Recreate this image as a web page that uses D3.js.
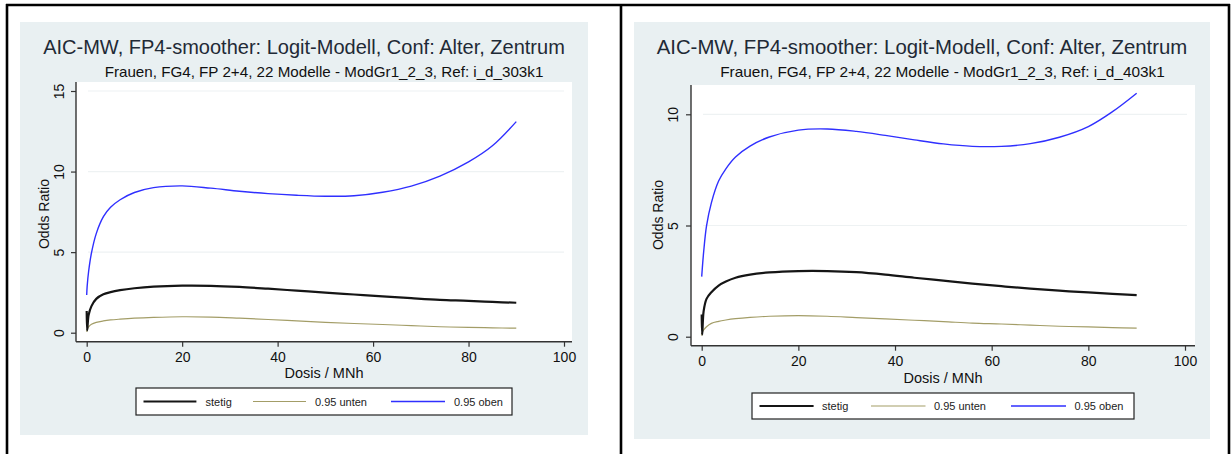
<!DOCTYPE html>
<html>
<head>
<meta charset="utf-8">
<script src="https://cdn.jsdelivr.net/npm/d3@7"></script>
<style>
  html, body { margin: 0; padding: 0; background: #ffffff; }
  svg { display: block; }
  text { font-family: "Liberation Sans", Arial, sans-serif; }
</style>
</head>
<body>
<svg id="chart" width="1232" height="454"></svg>
<script>
// Dose grid shared by all curves (MNh)
const dose = [0, 0.1, 0.4, 1, 2, 3.5, 5, 7, 10, 14, 20, 26, 32, 38, 44, 50, 56, 62, 68, 74, 80, 85, 90];

// Reference i_d_303k1
const stetig303 = [1.35, 0.15, 1.10, 1.65, 2.10, 2.38, 2.52, 2.64, 2.76, 2.86, 2.92, 2.91, 2.84, 2.73, 2.61, 2.49, 2.37, 2.25, 2.14, 2.04, 1.98, 1.91, 1.86];
const unten303  = [0.05, 0.20, 0.36, 0.52, 0.64, 0.73, 0.79, 0.84, 0.90, 0.95, 0.99, 0.97, 0.90, 0.82, 0.73, 0.64, 0.57, 0.51, 0.44, 0.37, 0.33, 0.30, 0.28];
const oben303   = [2.34, 2.90, 3.80, 4.95, 6.15, 7.20, 7.78, 8.25, 8.70, 9.00, 9.11, 8.97, 8.78, 8.63, 8.53, 8.47, 8.50, 8.72, 9.10, 9.72, 10.6, 11.6, 13.1];

// Reference i_d_403k1
const stetig403 = [1.00, 0.10, 1.15, 1.70, 2.00, 2.30, 2.48, 2.65, 2.79, 2.89, 2.95, 2.95, 2.90, 2.79, 2.65, 2.52, 2.39, 2.27, 2.16, 2.07, 1.99, 1.93, 1.87];
const unten403  = [0.05, 0.18, 0.30, 0.45, 0.60, 0.69, 0.75, 0.81, 0.87, 0.92, 0.95, 0.92, 0.86, 0.80, 0.74, 0.68, 0.61, 0.57, 0.52, 0.47, 0.44, 0.41, 0.39];
const oben403   = [2.70, 3.00, 3.80, 4.98, 6.02, 7.00, 7.55, 8.08, 8.57, 8.98, 9.29, 9.34, 9.23, 9.05, 8.85, 8.67, 8.56, 8.56, 8.68, 8.97, 9.45, 10.12, 10.95];

// Axis ticks
const xTicks = [0, 20, 40, 60, 80, 100];
const yTicks303 = [0, 5, 10, 15];
const yTicks403 = [0, 5, 10];

// Text
const titleText = "AIC-MW, FP4-smoother: Logit-Modell, Conf: Alter, Zentrum";
const subtitle303 = "Frauen, FG4, FP 2+4, 22 Modelle - ModGr1_2_3, Ref: i_d_303k1";
const subtitle403 = "Frauen, FG4, FP 2+4, 22 Modelle - ModGr1_2_3, Ref: i_d_403k1";
const xTitle = "Dosis / MNh";
const yTitle = "Odds Ratio";
const seriesNames = ["stetig", "0.95 unten", "0.95 oben"];

const seriesStyle = [
  { color: "#151515", width: 2.2 },
  { color: "#a39d67", width: 1.2 },
  { color: "#2f2fff", width: 1.4 }
];

const svg = d3.select("#chart");

// Table frame around the two cells
const frame = svg.append("g").attr("stroke", "#000").attr("stroke-width", 2.6);
frame.append("line").attr("x1", 6).attr("x2", 1230).attr("y1", 5).attr("y2", 5);
frame.append("line").attr("x1", 7).attr("x2", 7).attr("y1", 4).attr("y2", 454);
frame.append("line").attr("x1", 621).attr("x2", 621).attr("y1", 4).attr("y2", 454);
frame.append("line").attr("x1", 1229).attr("x2", 1229).attr("y1", 4).attr("y2", 454);

function fitText(sel, target, base) {
  sel.style("font-size", base + "px");
  const w = sel.node().getComputedTextLength();
  sel.style("font-size", (base * target / w).toFixed(2) + "px");
}

function drawPanel(p) {
  const g = svg.append("g");

  // graph region
  g.append("rect")
    .attr("x", p.bg[0]).attr("y", p.bg[1])
    .attr("width", p.bg[2] - p.bg[0]).attr("height", p.bg[3] - p.bg[1])
    .attr("fill", "#e9f0f2");

  const x = d3.scaleLinear().domain([0, 100]).range(p.xRange);
  const y = d3.scaleLinear().domain(p.yDomain).range(p.yRange);

  // plot region
  g.append("rect")
    .attr("x", p.axisX).attr("y", p.axisTop)
    .attr("width", p.axisRight - p.axisX).attr("height", p.axisY - p.axisTop)
    .attr("fill", "#ffffff");

  // faint grid lines
  g.append("g").selectAll("line").data(p.yTicks.filter(d => d > 0)).join("line")
    .attr("x1", p.axisX + 12).attr("x2", p.axisRight - 8)
    .attr("y1", d => y(d)).attr("y2", d => y(d))
    .attr("stroke", "#eef2f3").attr("stroke-width", 1.2);

  // curves
  const line = d3.line().x(d => x(d[0])).y(d => y(d[1])).curve(d3.curveCatmullRom.alpha(0.5));
  const order = [1, 0, 2];
  order.forEach(i => {
    const vals = p.series[i];
    g.append("path")
      .datum(dose.map((d, k) => [d, vals[k]]))
      .attr("d", line)
      .attr("fill", "none")
      .attr("stroke", seriesStyle[i].color)
      .attr("stroke-width", seriesStyle[i].width)
      .attr("stroke-linejoin", "round");
  });

  // y axis
  const yAxis = d3.axisLeft(y).tickValues(p.yTicks).tickSize(5).tickPadding(4).tickFormat(d3.format("d"));
  const ya = g.append("g").attr("transform", `translate(${p.axisX},0)`).call(yAxis);
  ya.select(".domain").remove();
  ya.selectAll(".tick line").attr("stroke", "#333").attr("stroke-width", 1.2);
  ya.selectAll(".tick text")
    .attr("font-size", 14).attr("fill", "#111")
    .attr("font-family", "Liberation Sans, Arial, sans-serif")
    .attr("text-anchor", "middle")
    .attr("x", 0).attr("dy", 0)
    .attr("transform", `translate(${p.yLabelX - p.axisX},0) rotate(-90)`)
    .attr("y", 0)
    .attr("dominant-baseline", "central");
  g.append("line")
    .attr("x1", p.axisX).attr("x2", p.axisX)
    .attr("y1", p.axisTop).attr("y2", p.axisY)
    .attr("stroke", "#333").attr("stroke-width", 1.4);

  // x axis
  const xAxis = d3.axisBottom(x).tickValues(xTicks).tickSize(5).tickPadding(5).tickFormat(d3.format("d"));
  const xa = g.append("g").attr("transform", `translate(0,${p.axisY})`).call(xAxis);
  xa.select(".domain").remove();
  xa.selectAll(".tick line").attr("stroke", "#333").attr("stroke-width", 1.2);
  xa.selectAll(".tick text")
    .attr("font-size", 14).attr("fill", "#111")
    .attr("font-family", "Liberation Sans, Arial, sans-serif")
    .attr("dy", "0.71em");
  g.append("line")
    .attr("x1", p.axisX).attr("x2", p.axisRight)
    .attr("y1", p.axisY).attr("y2", p.axisY)
    .attr("stroke", "#333").attr("stroke-width", 1.4);

  // titles
  const t = g.append("text").text(titleText)
    .attr("x", p.titleX).attr("y", 54).attr("text-anchor", "middle").attr("fill", "#1f2a36");
  fitText(t, p.titleW, 19);
  const s = g.append("text").text(p.subtitle)
    .attr("x", p.subX).attr("y", 77).attr("text-anchor", "middle").attr("fill", "#111");
  fitText(s, p.subW, 15);

  g.append("text").text(xTitle)
    .attr("x", p.xTitleX).attr("y", p.xTitleY).attr("text-anchor", "middle")
    .attr("fill", "#111").style("font-size", "14.5px");
  g.append("text").text(yTitle)
    .attr("transform", `translate(${p.yTitleX},${p.yTitleY}) rotate(-90)`)
    .attr("text-anchor", "middle").attr("dominant-baseline", "central")
    .attr("fill", "#111").style("font-size", "14px");

  // legend
  const L = p.legend;
  g.append("rect")
    .attr("x", L.box[0]).attr("y", L.box[1])
    .attr("width", L.box[2] - L.box[0]).attr("height", L.box[3] - L.box[1])
    .attr("fill", "#ffffff").attr("stroke", "#222").attr("stroke-width", 1.2);
  const ly = (L.box[1] + L.box[3]) / 2;
  seriesNames.forEach((name, i) => {
    g.append("line")
      .attr("x1", L.lines[i][0]).attr("x2", L.lines[i][1])
      .attr("y1", ly).attr("y2", ly)
      .attr("stroke", seriesStyle[i].color).attr("stroke-width", seriesStyle[i].width);
    g.append("text").text(name)
      .attr("x", L.texts[i]).attr("y", ly).attr("dominant-baseline", "central")
      .attr("fill", "#222").style("font-size", "11px");
  });
}

drawPanel({
  bg: [20, 22, 588, 435],
  xRange: [86.7, 564],
  yDomain: [0, 15], yRange: [332.7, 91],
  yTicks: yTicks303,
  axisX: 76, axisTop: 82, axisRight: 572, axisY: 341.7,
  yLabelX: 59,
  titleX: 304, titleW: 522,
  subtitle: subtitle303, subX: 324, subW: 439,
  xTitleX: 324, xTitleY: 378,
  yTitleX: 44, yTitleY: 214,
  series: [stetig303, unten303, oben303],
  legend: { box: [136, 388, 512, 415], lines: [[143.5, 196.4], [253, 306], [391, 445]], texts: [205.5, 315, 454] }
});

drawPanel({
  bg: [634, 22, 1210, 439],
  xRange: [701.7, 1185],
  yDomain: [0, 10], yRange: [336.7, 114.3],
  yTicks: yTicks403,
  axisX: 691, axisTop: 85, axisRight: 1195, axisY: 345.7,
  yLabelX: 673,
  titleX: 922, titleW: 531,
  subtitle: subtitle403, subX: 942.5, subW: 445,
  xTitleX: 943, xTitleY: 383,
  yTitleX: 658, yTitleY: 215,
  series: [stetig403, unten403, oben403],
  legend: { box: [752, 393, 1134, 419], lines: [[759.5, 813.6], [871, 925.5], [1011, 1066]], texts: [822, 934, 1074.5] }
});
</script>
</body>
</html>
